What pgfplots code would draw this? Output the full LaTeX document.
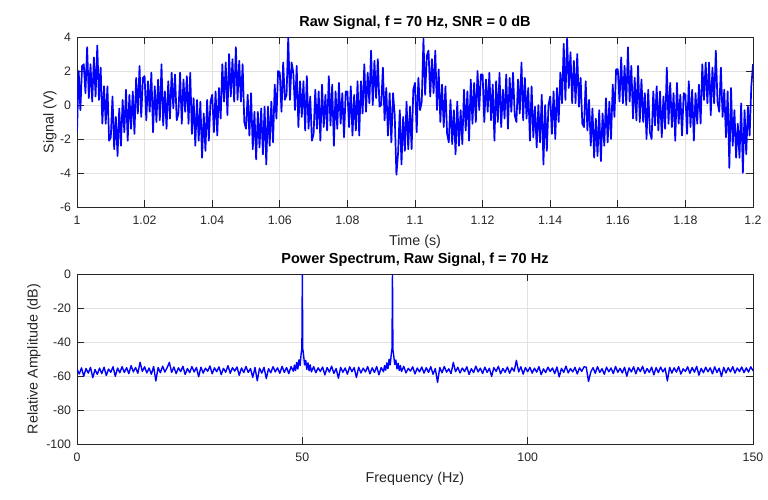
\documentclass[border=0pt]{standalone}
\usepackage{fontspec}
\setmainfont{Liberation Sans}
\usepackage{pgfplots}
\pgfplotsset{compat=1.18}
\definecolor{axgray}{RGB}{38,38,38}
\definecolor{gridgray}{RGB}{225,225,225}
\definecolor{mblue}{RGB}{0,0,255}
\pgfplotsset{
 mstyle/.style={
  scale only axis, width=676pt, height=170pt,
  axis line style={axgray, line width=0.7pt},
  every tick/.style={axgray, line width=0.7pt},
  major tick length=6.8pt,
  tick align=inside,
  grid=major, major grid style={gridgray, line width=0.7pt},
  /pgf/number format/assume math mode=true,
  ticklabel style={font=\fontsize{12.3}{14}\selectfont, text=axgray},
  xticklabel style={yshift=-5.5pt},
  yticklabel style={xshift=-2.5pt},
  title style={font=\bfseries\fontsize{14.5}{16}\selectfont, at={(axis description cs:0.5,1)}, anchor=base, yshift=4.5pt},
  every axis plot/.append style={mblue, no markers, line join=round},
 }
}
\begin{document}
\begin{tikzpicture}[x=1pt,y=1pt]
\useasboundingbox (0,0) rectangle (768,499);
\begin{axis}[mstyle, at={(77pt,292pt)}, anchor=south west,
  xmin=1, xmax=1.2, ymin=-6, ymax=4,
  xtick={1,1.02,1.04,1.06,1.08,1.1,1.12,1.14,1.16,1.18,1.2},
  xticklabels={1,1.02,1.04,1.06,1.08,1.1,1.12,1.14,1.16,1.18,1.2},
  ytick={-6,-4,-2,0,2,4}, yticklabels={-6,-4,-2,0,2,4},
  title={Raw Signal, f = 70 Hz, SNR = 0 dB},
  xlabel={Time (s)}, ylabel={Signal (V)},
  xlabel style={font=\fontsize{14.3}{16}\selectfont, text=axgray, at={(axis description cs:0.5,0)}, anchor=base, yshift=-38pt},
  ylabel style={font=\fontsize{14.3}{16}\selectfont, text=axgray, at={([xshift=-23.5pt]axis description cs:0,0.5)}, anchor=base, rotate=0},
]
\addplot[line width=1.7pt] coordinates {
(1.0000,-1.6)(1.0005,2.0)(1.0010,-0.3)(1.0015,2.3)(1.0020,2.4)(1.0025,0.7)(1.0030,3.4)(1.0035,0.4)(1.0040,2.4)(1.0045,0.2)
(1.0050,2.8)(1.0055,0.5)(1.0060,3.5)(1.0065,0.3)(1.0070,2.2)(1.0075,-1.1)(1.0080,1.1)(1.0085,-1.1)(1.0090,1.1)(1.0095,-2.1)
(1.0100,-1.9)(1.0105,0.5)(1.0110,-2.6)(1.0115,-0.7)(1.0120,-3.0)(1.0125,-0.2)(1.0130,-2.4)(1.0135,0.3)(1.0140,-1.6)(1.0145,0.9)
(1.0150,-2.1)(1.0155,0.6)(1.0160,-1.4)(1.0165,0.8)(1.0170,-1.7)(1.0175,1.6)(1.0180,-0.5)(1.0185,2.3)(1.0190,-0.7)(1.0195,1.6)
(1.0200,1.7)(1.0205,-0.9)(1.0210,1.4)(1.0215,-0.4)(1.0220,1.9)(1.0225,-1.6)(1.0230,1.1)(1.0235,-1.0)(1.0240,1.5)(1.0245,-0.9)
(1.0250,2.4)(1.0255,-1.2)(1.0260,0.8)(1.0265,-1.4)(1.0270,1.4)(1.0275,-0.8)(1.0280,1.9)(1.0285,-0.2)(1.0290,1.8)(1.0295,-0.9)
(1.0300,-0.5)(1.0305,1.9)(1.0310,-1.1)(1.0315,1.5)(1.0320,-0.4)(1.0325,1.7)(1.0330,-1.1)(1.0335,1.9)(1.0340,-1.7)(1.0345,0.4)
(1.0350,-2.4)(1.0355,0.3)(1.0360,-2.1)(1.0365,0.2)(1.0370,-3.1)(1.0375,-0.5)(1.0380,-2.7)(1.0385,0.3)(1.0390,-2.1)(1.0395,0.2)
(1.0400,0.6)(1.0405,-1.6)(1.0410,0.8)(1.0415,-1.8)(1.0420,1.0)(1.0425,-0.8)(1.0430,2.4)(1.0435,0.2)(1.0440,2.5)(1.0445,-0.6)
(1.0450,3.0)(1.0455,0.5)(1.0460,2.7)(1.0465,0.2)(1.0470,3.4)(1.0475,0.3)(1.0480,2.6)(1.0485,0.2)(1.0490,2.4)(1.0495,-1.0)
(1.0500,-1.4)(1.0505,0.6)(1.0510,-1.8)(1.0515,0.7)(1.0520,-2.6)(1.0525,-0.4)(1.0530,-3.2)(1.0535,-0.4)(1.0540,-2.5)(1.0545,-0.2)
(1.0550,-2.9)(1.0555,-0.1)(1.0560,-3.5)(1.0565,-0.1)(1.0570,-2.4)(1.0575,0.2)(1.0580,-2.2)(1.0585,1.2)(1.0590,-0.8)(1.0595,2.0)
(1.0600,1.9)(1.0605,-0.4)(1.0610,2.5)(1.0615,0.3)(1.0620,0.6)(1.0625,4.0)(1.0630,0.3)(1.0635,2.5)(1.0640,1.9)(1.0645,-0.3)
(1.0650,2.3)(1.0655,-1.3)(1.0660,1.4)(1.0665,-0.7)(1.0670,1.4)(1.0675,-1.5)(1.0680,1.7)(1.0685,-1.4)(1.0690,0.5)(1.0695,-2.1)
(1.0700,-1.7)(1.0705,0.9)(1.0710,-1.4)(1.0715,0.8)(1.0720,-2.1)(1.0725,1.2)(1.0730,-1.3)(1.0735,0.6)(1.0740,-1.5)(1.0745,1.7)
(1.0750,-1.2)(1.0755,1.2)(1.0760,-2.4)(1.0765,0.8)(1.0770,-1.4)(1.0775,1.3)(1.0780,-1.1)(1.0785,0.7)(1.0790,-1.9)(1.0795,0.8)
(1.0800,0.8)(1.0805,-1.3)(1.0810,1.1)(1.0815,-1.8)(1.0820,0.6)(1.0825,-1.5)(1.0830,1.4)(1.0835,-1.8)(1.0840,1.4)(1.0845,-0.5)
(1.0850,2.4)(1.0855,-0.4)(1.0860,1.9)(1.0865,0.1)(1.0870,3.2)(1.0875,0.0)(1.0880,2.6)(1.0885,0.4)(1.0890,2.7)(1.0895,-0.1)
(1.0900,0.0)(1.0905,2.2)(1.0910,-0.9)(1.0915,1.0)(1.0920,-1.8)(1.0925,0.7)(1.0930,-2.2)(1.0935,0.7)(1.0940,-0.6)(1.0945,-4.1)
(1.0950,-2.8)(1.0955,-0.3)(1.0960,-3.5)(1.0965,-0.7)(1.0970,-2.7)(1.0975,0.2)(1.0980,-2.6)(1.0985,-0.1)(1.0990,-2.6)(1.0995,0.9)
(1.1000,1.3)(1.1005,-1.6)(1.1010,1.6)(1.1015,-0.3)(1.1020,0.2)(1.1025,3.9)(1.1030,0.6)(1.1035,2.9)(1.1040,3.2)(1.1045,0.5)
(1.1050,2.7)(1.1055,0.7)(1.1060,3.2)(1.1065,-0.3)(1.1070,2.1)(1.1075,-1.0)(1.1080,1.2)(1.1085,-1.3)(1.1090,1.1)(1.1095,-1.7)
(1.1100,-2.2)(1.1105,0.3)(1.1110,-2.3)(1.1115,-0.3)(1.1120,-2.9)(1.1125,0.2)(1.1130,-2.4)(1.1135,-0.3)(1.1140,-2.3)(1.1145,0.9)
(1.1150,-1.5)(1.1155,0.8)(1.1160,-2.1)(1.1165,1.5)(1.1170,-1.1)(1.1175,1.3)(1.1180,-1.0)(1.1185,2.0)(1.1190,-0.3)(1.1195,1.8)
(1.1200,1.8)(1.1205,-1.0)(1.1210,1.5)(1.1215,-0.4)(1.1220,1.9)(1.1225,-0.9)(1.1230,1.2)(1.1235,-2.1)(1.1240,1.4)(1.1245,-1.0)
(1.1250,1.9)(1.1255,-1.3)(1.1260,0.9)(1.1265,-0.8)(1.1270,1.8)(1.1275,-1.4)(1.1280,1.6)(1.1285,-0.4)(1.1290,1.9)(1.1295,-0.6)
(1.1300,-1.0)(1.1305,1.5)(1.1310,-0.5)(1.1315,2.5)(1.1320,-0.9)(1.1325,1.6)(1.1330,-0.8)(1.1335,1.0)(1.1340,-2.1)(1.1345,1.1)
(1.1350,-1.9)(1.1355,-0.1)(1.1360,-2.5)(1.1365,0.0)(1.1370,-2.2)(1.1375,0.6)(1.1380,-3.5)(1.1385,0.0)(1.1390,-2.7)(1.1395,0.0)
(1.1400,0.5)(1.1405,-1.7)(1.1410,0.8)(1.1415,-2.0)(1.1420,1.0)(1.1425,-1.0)(1.1430,1.9)(1.1435,0.1)(1.1440,3.6)(1.1445,0.3)
(1.1450,3.9)(1.1455,1.0)(1.1460,3.1)(1.1465,0.1)(1.1470,2.6)(1.1475,0.1)(1.1480,3.0)(1.1485,-0.1)(1.1490,1.6)(1.1495,-1.1)
(1.1500,-1.3)(1.1505,1.4)(1.1510,-1.5)(1.1515,0.3)(1.1520,-2.4)(1.1525,-0.2)(1.1530,-3.1)(1.1535,-0.8)(1.1540,-3.0)(1.1545,-0.3)
(1.1550,-3.3)(1.1555,-0.5)(1.1560,-2.4)(1.1565,0.4)(1.1570,-2.2)(1.1575,0.2)(1.1580,-2.0)(1.1585,1.2)(1.1590,-0.7)(1.1595,2.1)
(1.1600,2.1)(1.1605,0.2)(1.1610,2.8)(1.1615,0.1)(1.1620,2.3)(1.1625,0.0)(1.1630,3.4)(1.1635,0.2)(1.1640,2.3)(1.1645,-0.8)
(1.1650,1.6)(1.1655,-0.9)(1.1660,2.3)(1.1665,-1.0)(1.1670,1.5)(1.1675,-1.0)(1.1680,0.7)(1.1685,-2.0)(1.1690,0.9)(1.1695,-1.6)
(1.1700,-2.0)(1.1705,0.8)(1.1710,-1.2)(1.1715,1.1)(1.1720,-1.5)(1.1725,0.8)(1.1730,-1.9)(1.1735,0.5)(1.1740,-1.4)(1.1745,2.2)
(1.1750,-1.1)(1.1755,1.3)(1.1760,-1.3)(1.1765,0.7)(1.1770,-2.1)(1.1775,1.3)(1.1780,-1.1)(1.1785,0.6)(1.1790,-1.8)(1.1795,0.7)
(1.1800,0.6)(1.1805,-1.7)(1.1810,1.4)(1.1815,-1.3)(1.1820,0.9)(1.1825,-2.1)(1.1830,0.7)(1.1835,-1.1)(1.1840,1.2)(1.1845,-1.1)
(1.1850,2.4)(1.1855,0.3)(1.1860,2.5)(1.1865,0.1)(1.1870,2.5)(1.1875,-0.6)(1.1880,2.2)(1.1885,0.1)(1.1890,3.2)(1.1895,0.2)
(1.1900,-0.4)(1.1905,2.2)(1.1910,-0.7)(1.1915,0.9)(1.1920,-1.9)(1.1925,0.8)(1.1930,-3.7)(1.1935,1.0)(1.1940,-2.4)(1.1945,-0.3)
(1.1950,-3.1)(1.1955,-1.1)(1.1960,-3.1)(1.1965,0.1)(1.1970,-4.0)(1.1975,-0.3)(1.1980,-2.9)(1.1985,-0.1)(1.1990,-1.8)(1.1995,1.1)
(1.2000,2.4)
};
\end{axis}
\begin{axis}[mstyle, at={(77pt,55pt)}, anchor=south west,
  xmin=0, xmax=150, ymin=-100, ymax=0,
  xtick={0,50,100,150}, xticklabels={0,50,100,150},
  ytick={-100,-80,-60,-40,-20,0}, yticklabels={-100,-80,-60,-40,-20,0},
  title={Power Spectrum, Raw Signal, f = 70 Hz},
  xlabel={Frequency (Hz)}, ylabel={Relative Amplitude (dB)},
  xlabel style={font=\fontsize{14.3}{16}\selectfont, text=axgray, at={(axis description cs:0.5,0)}, anchor=base, yshift=-38pt},
  ylabel style={font=\fontsize{14.3}{16}\selectfont, text=axgray, at={([xshift=-39.3pt]axis description cs:0,0.5)}, anchor=base, rotate=0},
]
\addplot[line width=1.4pt] coordinates {
(0,-56.0)(0.5,-58.8)(1,-55.2)(1.5,-60.1)(2,-55.6)(2.5,-58.3)(3,-54.9)(3.5,-61.0)(4,-56.2)(4.5,-59.0)
(5,-55.4)(5.5,-58.6)(6,-54.8)(6.5,-59.7)(7,-55.9)(7.5,-57.8)(8,-54.6)(8.5,-60.2)(9,-55.3)(9.5,-58.1)
(10,-54.5)(10.5,-57.9)(11,-55.1)(11.5,-58.6)(12,-53.9)(12.5,-57.6)(13,-55.0)(13.5,-58.4)(14,-51.9)(14.5,-57.3)
(15,-54.6)(15.5,-58.2)(16,-55.3)(16.5,-59.0)(17,-54.4)(17.5,-62.9)(18,-55.0)(18.5,-58.1)(19,-54.2)(19.5,-57.7)
(20,-55.1)(20.5,-52.0)(21,-57.9)(21.5,-54.7)(22,-58.6)(22.5,-55.2)(23,-57.4)(23.5,-54.3)(24,-59.1)(24.5,-55.6)
(25,-58.0)(25.5,-54.5)(26,-57.6)(26.5,-55.0)(27,-60.4)(27.5,-54.8)(28,-58.3)(28.5,-55.4)(29,-57.2)(29.5,-54.1)
(30,-58.7)(30.5,-55.2)(31,-57.5)(31.5,-54.6)(32,-59.2)(32.5,-55.5)(33,-57.8)(33.5,-53.9)(34,-58.4)(34.5,-55.1)
(35,-57.1)(35.5,-54.7)(36,-59.6)(36.5,-55.3)(37,-58.0)(37.5,-54.4)(38,-57.9)(38.5,-55.6)(39,-60.8)(39.5,-55.0)
(40,-62.8)(40.5,-55.4)(41,-58.3)(41.5,-54.9)(42,-61.5)(42.5,-55.7)(43,-58.1)(43.5,-54.5)(44,-57.6)(44.5,-55.2)
(45,-58.4)(45.5,-54.3)(46,-57.9)(46.5,-55.0)(47,-58.6)(47.5,-54.4)
(48,-57.2)(48.25,-53.6)(48.5,-56.8)(48.75,-52.0)(49,-55.9)(49.25,-50.5)(49.5,-53.8)(49.75,-46.5)(49.9,-44.0)(50,0)(50.1,-44.2)(50.25,-47.0)(50.5,-53.5)(50.75,-50.8)(51,-56.1)(51.25,-52.3)(51.5,-56.9)(51.75,-53.4)(52,-57.6)
(52.5,-54.5)(53,-58.1)(53.5,-55.2)(54,-57.3)(54.5,-54.7)
(55,-59.4)(55.5,-55.0)(56,-57.7)(56.5,-54.2)(57,-58.5)(57.5,-55.6)(58,-61.3)(58.5,-54.9)(59,-57.8)(59.5,-55.3)
(60,-58.9)(60.5,-54.6)(61,-57.4)(61.5,-55.1)(62,-60.9)(62.5,-54.8)(63,-58.2)(63.5,-55.4)(64,-57.6)(64.5,-54.5)
(65,-58.7)(65.5,-55.2)(66,-57.9)(66.5,-54.4)(67,-59.3)(67.5,-55.0)
(68,-57.5)(68.25,-53.9)(68.5,-56.6)(68.75,-52.3)(69,-55.7)(69.25,-50.2)(69.5,-53.5)(69.75,-46.8)(69.9,-43.8)(70,0)(70.1,-44.5)(70.25,-47.3)(70.5,-53.2)(70.75,-50.6)(71,-55.8)(71.25,-52.5)(71.5,-56.7)(71.75,-53.8)(72,-57.4)
(72.5,-54.3)(73,-58.2)(73.5,-55.5)(74,-57.1)(74.5,-54.6)
(75,-58.8)(75.5,-55.3)(76,-57.6)(76.5,-54.7)(77,-58.3)(77.5,-55.1)(78,-57.9)(78.5,-54.5)(79,-59.0)(79.5,-55.6)
(80,-63.8)(80.5,-55.0)(81,-58.1)(81.5,-54.4)(82,-57.7)(82.5,-55.8)(83,-58.6)(83.5,-52.0)(84,-57.5)(84.5,-54.9)
(85,-58.2)(85.5,-55.3)(86,-57.4)(86.5,-54.6)(87,-59.1)(87.5,-55.7)(88,-58.0)(88.5,-54.2)(89,-57.6)(89.5,-55.4)
(90,-58.5)(90.5,-54.8)(91,-57.9)(91.5,-55.5)(92,-60.2)(92.5,-55.1)(93,-57.3)(93.5,-54.3)(94,-58.7)(94.5,-55.6)
(95,-57.8)(95.5,-54.7)(96,-58.4)(96.5,-55.2)(97,-57.2)(97.5,-50.8)(98,-57.6)(98.5,-54.6)(99,-58.9)(99.5,-55.0)
(100,-57.5)(100.5,-54.9)(101,-58.3)(101.5,-55.4)(102,-57.7)(102.5,-54.5)(103,-59.2)(103.5,-55.8)(104,-58.0)(104.5,-54.8)
(105,-57.4)(105.5,-55.3)(106,-58.6)(106.5,-54.7)(107,-60.5)(107.5,-55.5)(108,-57.9)(108.5,-54.2)(109,-58.2)(109.5,-55.6)
(110,-57.6)(110.5,-54.9)(111,-58.8)(111.5,-55.2)(112,-57.3)(112.5,-54.6)(113,-54.8)(113.5,-63.2)(114,-57.7)(114.5,-55.1)
(115,-58.4)(115.5,-54.5)(116,-57.9)(116.5,-55.7)(117,-59.0)(117.5,-54.8)(118,-57.5)(118.5,-55.3)(119,-58.6)(119.5,-54.4)
(120,-57.8)(120.5,-55.5)(121,-58.2)(121.5,-54.9)(122,-60.1)(122.5,-55.2)(123,-57.6)(123.5,-54.6)(124,-58.7)(124.5,-55.0)
(125,-57.4)(125.5,-54.3)(126,-58.5)(126.5,-55.6)(127,-57.9)(127.5,-54.8)(128,-59.3)(128.5,-55.1)(129,-58.0)(129.5,-54.7)
(130,-57.6)(130.5,-55.4)(131,-62.9)(131.5,-54.9)(132,-58.3)(132.5,-55.2)(133,-57.7)(133.5,-54.5)(134,-58.9)(134.5,-55.8)
(135,-57.3)(135.5,-54.6)(136,-58.4)(136.5,-55.0)(137,-57.8)(137.5,-54.3)(138,-59.5)(138.5,-55.5)(139,-58.1)(139.5,-54.8)
(140,-57.5)(140.5,-55.2)(141,-58.7)(141.5,-54.6)(142,-57.9)(142.5,-55.4)(143,-60.3)(143.5,-54.9)(144,-58.2)(144.5,-55.1)
(145,-57.6)(145.5,-54.5)(146,-58.3)(146.5,-55.3)(147,-57.4)(147.5,-54.7)(148,-58.0)(148.5,-55.2)(149,-57.7)(149.5,-54.6)(150,-56.9)
};
\end{axis}
\end{tikzpicture}
\end{document}
